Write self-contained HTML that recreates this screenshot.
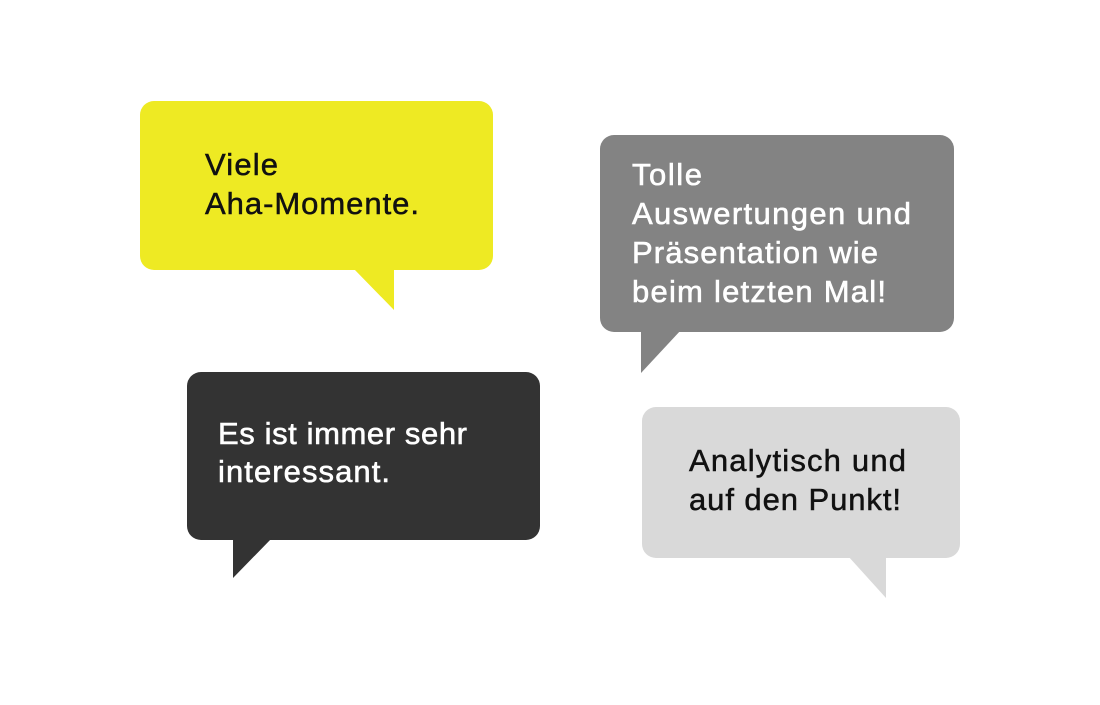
<!DOCTYPE html>
<html><head><meta charset="utf-8"><style>html,body{margin:0;padding:0;background:#fff}</style></head>
<body>
<svg width="1100" height="700" xmlns="http://www.w3.org/2000/svg" font-family="Liberation Sans, sans-serif" font-size="31">
<rect x="140" y="101" width="353" height="169" rx="14" fill="#eeea23"/>
<polygon points="353,268 394,268 394,310" fill="#eeea23"/>
<g fill="#111" stroke="#111" stroke-width="0.5">
<text x="205" y="175" textLength="73" lengthAdjust="spacing">Viele</text>
<text x="205" y="214" textLength="214" lengthAdjust="spacing">Aha-Momente.</text>
</g>
<rect x="600" y="135" width="354" height="197" rx="14" fill="#838383"/>
<polygon points="641,330 681,330 641,373" fill="#838383"/>
<g fill="#fff" stroke="#fff" stroke-width="0.6">
<text x="632" y="185" textLength="70" lengthAdjust="spacing">Tolle</text>
<text x="632" y="224" textLength="279" lengthAdjust="spacing">Auswertungen und</text>
<text x="632" y="263" textLength="246" lengthAdjust="spacing">Präsentation wie</text>
<text x="632" y="302" textLength="254" lengthAdjust="spacing">beim letzten Mal!</text>
</g>
<rect x="187" y="372" width="353" height="168" rx="14" fill="#333333"/>
<polygon points="233,538 272,538 233,578" fill="#333333"/>
<g fill="#fff" stroke="#fff" stroke-width="0.6">
<text x="218" y="444" textLength="249" lengthAdjust="spacing">Es ist immer sehr</text>
<text x="218" y="482" textLength="172" lengthAdjust="spacing">interessant.</text>
</g>
<rect x="642" y="407" width="318" height="151" rx="14" fill="#d9d9d9"/>
<polygon points="848,556 886,556 886,598" fill="#d9d9d9"/>
<g fill="#111" stroke="#111" stroke-width="0.5">
<text x="689" y="471" textLength="217" lengthAdjust="spacing">Analytisch und</text>
<text x="689" y="510" textLength="212" lengthAdjust="spacing">auf den Punkt!</text>
</g>
</svg>
</body></html>
